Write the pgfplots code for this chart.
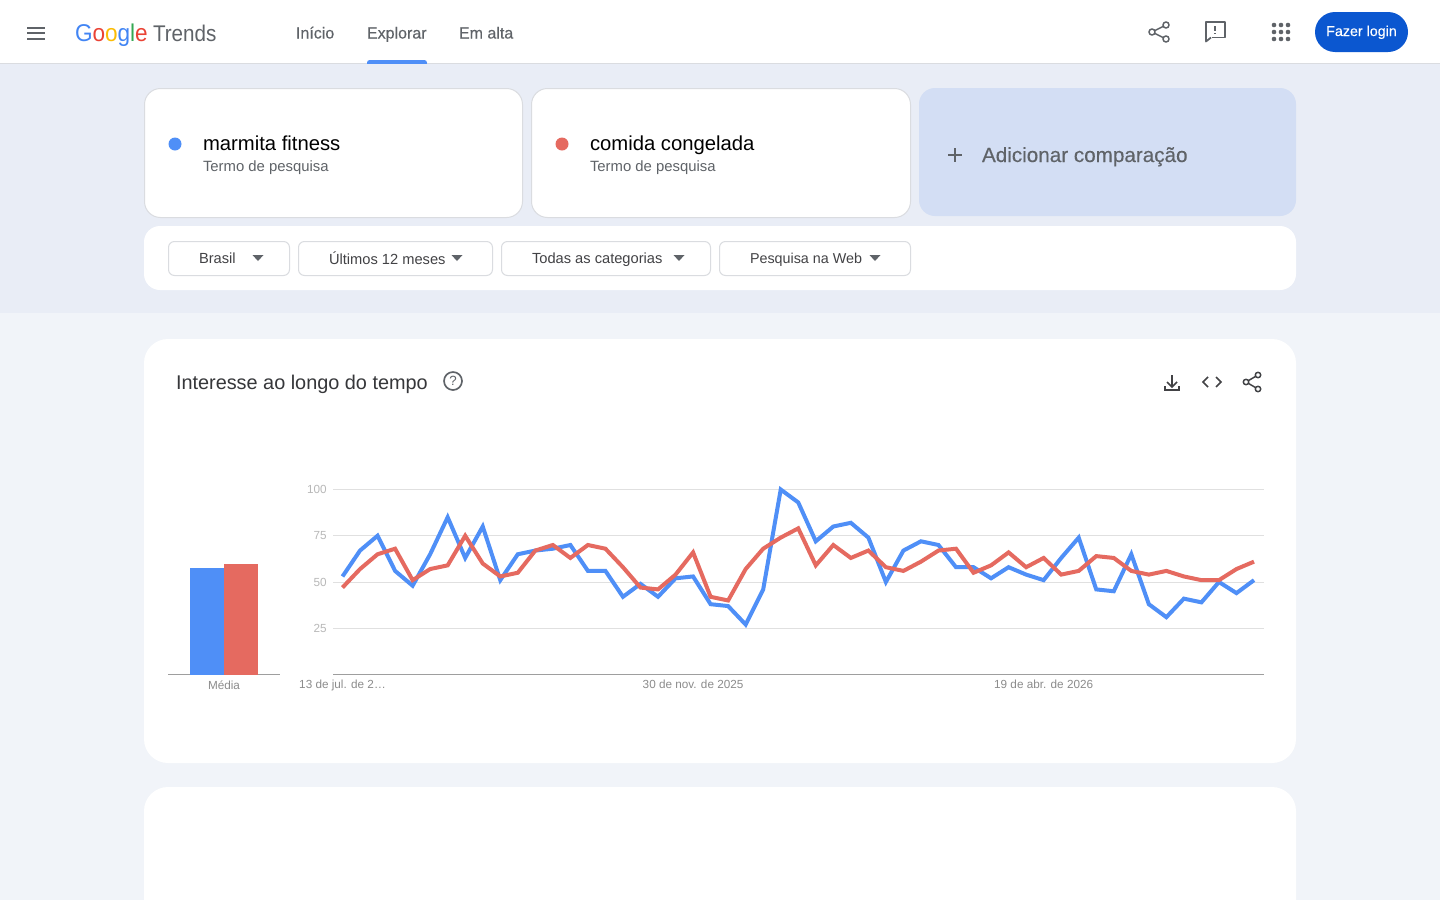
\documentclass[border=0pt]{standalone}
\usepackage{pgfplots}
\pgfplotsset{compat=1.18}
\usepackage{fontspec}
\setmainfont{Liberation Sans}
\newfontfamily\medfont[FakeBold=0.25]{Liberation Sans}
\definecolor{band}{HTML}{E9EDF6}
\definecolor{pagebg}{HTML}{F1F4F9}
\definecolor{addbox}{HTML}{D3DEF4}
\definecolor{bordc}{HTML}{DADCE0}
\definecolor{gry}{HTML}{5F6368}
\definecolor{dark}{HTML}{202124}
\definecolor{tblue}{HTML}{4F8FF7}
\definecolor{tred}{HTML}{E56A60}
\definecolor{loginb}{HTML}{0B57D0}
\newcommand{\fs}[1]{\fontsize{#1}{#1}\selectfont}
\pgfplotstableread{
i blue red
0 53 47
1 67 57
2 75 65
3 56 68
4 48 51
5 65 57
6 85 59
7 63 75
8 80 60
9 51 53
10 65 55
11 67 67
12 68 70
13 70 63
14 56 70
15 56 68
16 42 58
17 49 47
18 42 46
19 52 54
20 53 66
21 38 42
22 37 40
23 27 57
24 46 68
25 100 74
26 93 79
27 72 59
28 80 70
29 82 63
30 74 67
31 50 58
32 67 56
33 72 61
34 70 67
35 58 68
36 58 55
37 52 59
38 58 66
39 54 58
40 51 63
41 63 54
42 74 56
43 46 64
44 45 63
45 65 56
46 38 54
47 31 56
48 41 53
49 39 51
50 50 51
51 44 57
52 51 61
}\trends
\begin{document}
\begin{tikzpicture}[x=0.75pt,y=-0.75pt,
  txt/.style={anchor=base west,inner sep=0pt,outer sep=0pt},
  mid/.style={anchor=base,inner sep=0pt,outer sep=0pt}]
\path[use as bounding box] (0,0) rectangle (1440,900);
\begin{scope}
\clip (0,0) rectangle (1440,900);
% backgrounds
\fill[pagebg] (0,0) rectangle (1440,900);
\fill[band] (0,64) rectangle (1440,313);
\fill[white] (0,0) rectangle (1440,63.5);
\draw[bordc,line width=0.75pt] (0,63.5) -- (1440,63.5);
% nav
\foreach \y in {27.5,33,38.5}{\draw[gry,line width=1.5pt] (27,\y) -- (45,\y);}
\node[txt,font=\fs{18.2}] at (75,41) {\scalebox{0.93}[1]{\textcolor[HTML]{4285F4}{G}\textcolor[HTML]{EA4335}{o}\textcolor[HTML]{FBBC05}{o}\textcolor[HTML]{4285F4}{g}\textcolor[HTML]{34A853}{l}\textcolor[HTML]{EA4335}{e}}};
\node[txt,font=\fs{17},text=gry] at (153,41) {\scalebox{0.91}[1]{Trends}};
\node[txt,font=\fs{12}\medfont,text=gry] at (296,38.5) {Início};
\node[txt,font=\fs{12}\medfont,text=gry] at (367,38.5) {Explorar};
\node[txt,font=\fs{12}\medfont,text=gry] at (459,38.5) {Em alta};
\fill[tblue,rounded corners=2pt] (367,60) rectangle (427,66);
\fill[band] (360,64) rectangle (434,67);
% top right icons
\draw[gry,line width=1.1pt] (1166,25) -- (1152,32) -- (1166,39);
\foreach \p in {(1166,25),(1152,32),(1166,39)}{\filldraw[draw=gry,fill=white,line width=1.1pt] \p circle (3);}
\draw[gry,line width=1.3pt,line join=round] (1206,22) rectangle (1225,37.5);
\fill[white] (1205,36.5) rectangle (1212,38.7);
\draw[gry,line width=1.3pt,line join=round] (1206,37) -- (1206,41.5) -- (1211,37.5);
\fill[gry] (1214.2,25.5) rectangle (1216,31);
\fill[gry] (1214.2,32.5) rectangle (1216,34.3);
\foreach \x in {1274,1281,1288}{\foreach \y in {25,32,39}{\fill[gry] (\x,\y) circle (2.3);}}
\fill[loginb,rounded corners=15pt] (1315,12) rectangle (1408,52);
\node[mid,font=\fs{10.7}\medfont,text=white] at (1361.5,36) {Fazer login};
% term cards
\filldraw[draw=bordc,fill=white,line width=0.75pt,rounded corners=12pt] (144.5,88.5) rectangle (522.5,217.5);
\filldraw[draw=bordc,fill=white,line width=0.75pt,rounded corners=12pt] (531.5,88.5) rectangle (910.5,217.5);
\fill[addbox,rounded corners=12pt] (919,88) rectangle (1296,216);
\fill[tblue] (175,144) circle (6.5);
\fill[tred] (562,144) circle (6.5);
\node[txt,font=\fs{15.2},text=black] at (203,150) {marmita fitness};
\node[txt,font=\fs{15.2},text=black] at (590,150) {comida congelada};
\node[txt,font=\fs{11.15},text=gry] at (203,171) {Termo de pesquisa};
\node[txt,font=\fs{11.15},text=gry] at (590,171) {Termo de pesquisa};
\draw[gry,line width=1.2pt] (948,155) -- (962,155) (955,148) -- (955,162);
\node[txt,font=\fs{15.5}\medfont,text=gry] at (982,162) {Adicionar comparação};
% filter card
\fill[white,rounded corners=12pt] (144,226) rectangle (1296,290);
\foreach \a/\b in {168.5/289.5,298.5/492.5,501.5/710.5,719.5/910.5}{
  \draw[bordc,line width=0.75pt,rounded corners=4.5pt] (\a,241.5) rectangle (\b,275.5);}
\node[txt,font=\fs{11},text=dark!85] at (199,263) {Brasil};
\node[txt,font=\fs{11},text=dark!85] at (329,264) {Últimos 12 meses};
\node[txt,font=\fs{11},text=dark!85] at (532,263) {Todas as categorias};
\node[txt,font=\fs{10.75},text=dark!85] at (750,263) {Pesquisa na Web};
\foreach \x in {258,457,679,875}{\fill[gry] (\x-5.5,255) -- (\x+5.5,255) -- (\x,261) -- cycle;}
% chart card
\fill[white,rounded corners=18pt] (144,339) rectangle (1296,763);
\fill[white,rounded corners=18pt] (144,787) rectangle (1296,960);
\node[txt,font=\fs{14.9},text=dark!90] at (176,389) {Interesse ao longo do tempo};
\draw[gry,line width=1.25pt] (453,381) circle (9);
\node[font=\fs{10},text=gry,inner sep=0pt] at (453,381) {?};
% chart icons
\draw[dark!85,line width=1.25pt] (1172,375) -- (1172,386.5);
\draw[dark!85,line width=1.25pt] (1167,382) -- (1172,387) -- (1177,382);
\draw[dark!85,line width=1.25pt] (1165,386) -- (1165,390) -- (1179,390) -- (1179,386);
\draw[dark!85,line width=1.25pt] (1208,377) -- (1203,382) -- (1208,387);
\draw[dark!85,line width=1.25pt] (1216,377) -- (1221,382) -- (1216,387);
\draw[dark!85,line width=1.1pt] (1258,375) -- (1246,382) -- (1258,389);
\foreach \p in {(1258,375),(1246,382),(1258,389)}{\filldraw[draw=dark!85,fill=white,line width=1.1pt] \p circle (2.7);}
\end{scope}
% bar axis
\begin{axis}[at={(126pt,-505.875pt)},anchor=south west,scale only axis,
  width=84pt,height=138.75pt,xmin=168,xmax=280,ymin=0,ymax=100,
  axis y line=none,axis x line*=bottom,x axis line style={draw=black!38,line width=0.75pt,-},
  xtick={224},xticklabels={Média},
  tick style={draw=none},
  xticklabel style={font=\fs{8.8},text=black!45,inner sep=0pt,anchor=north,yshift=-4.2pt},
  clip=false]
\addplot[ybar,bar width=34,bar shift=0pt,fill=tblue,draw=none] coordinates {(207,57.6)};
\addplot[ybar,bar width=34,bar shift=0pt,fill=tred,draw=none] coordinates {(241,59.8)};
\end{axis}
% line axis
\begin{axis}[at={(249.75pt,-505.875pt)},anchor=south west,scale only axis,
  width=698.25pt,height=138.75pt,xmin=-0.542,xmax=52.57,ymin=0,ymax=100,
  axis y line*=left,axis x line*=bottom,
  y axis line style={draw=none},x axis line style={draw=black!38,line width=0.75pt,-},
  ytick={25,50,75,100},xtick={0,20,40},
  xticklabels={13 de jul. de 2…,30 de nov. de 2025,19 de abr. de 2026},
  tick style={draw=none},
  ymajorgrids,grid style={draw=black!12,line width=0.75pt},
  /pgf/number format/assume math mode=true,
  yticklabel style={font=\fs{8.8},text=black!28,inner sep=0pt,anchor=east,xshift=-4.5pt},
  xticklabel style={font=\fs{8.8},text=black!45,inner sep=0pt,anchor=north,yshift=-4.2pt},
  clip=false]
\addplot[tblue,line width=3pt,no marks] table[x=i,y=blue] {\trends};
\addplot[tred,line width=3pt,no marks] table[x=i,y=red] {\trends};
\end{axis}
\end{tikzpicture}
\end{document}
